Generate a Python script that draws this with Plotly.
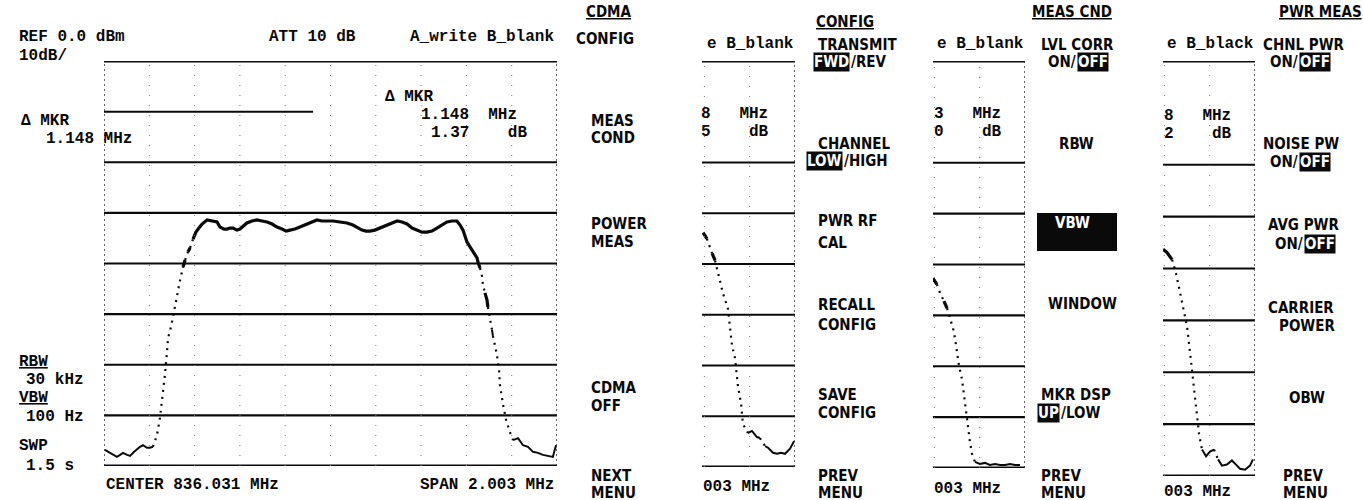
import plotly.graph_objects as go

W, H = 1363, 500

# Spectrum traces: frequency offset from centre (MHz) and level (dBm)
main_freq = [-0.996, -0.974, -0.956, -0.943, -0.929, -0.916, -0.898, -0.885, -0.867, -0.854,
             -0.841, -0.828, -0.810, -0.797, -0.784,
             -0.766, -0.753, -0.740, -0.731, -0.722, -0.717, -0.704, -0.686, -0.664, -0.651,
             -0.642, -0.629, -0.620, -0.607, -0.594, -0.581, -0.567, -0.545,
             -0.523, -0.501, -0.488, -0.470, -0.457, -0.444, -0.430, -0.413, -0.400, -0.382,
             -0.369, -0.347, -0.325, -0.302, -0.280, -0.258, -0.236, -0.214, -0.196, -0.179,
             -0.157, -0.135, -0.113, -0.086, -0.060, -0.038, -0.011, 0.011, 0.042, 0.073,
             0.099, 0.121, 0.139, 0.157, 0.174, 0.196, 0.219, 0.245, 0.272, 0.294,
             0.316, 0.338, 0.360, 0.382, 0.404, 0.426, 0.448, 0.470, 0.492, 0.514,
             0.536, 0.558, 0.572,
             0.585, 0.594, 0.603, 0.616, 0.625, 0.638, 0.647, 0.651, 0.660, 0.669,
             0.673, 0.682, 0.691, 0.695, 0.704, 0.713, 0.717, 0.726, 0.735, 0.744,
             0.748, 0.762, 0.775, 0.792, 0.806,
             0.828, 0.850, 0.872, 0.894, 0.916, 0.938, 0.960, 0.982, 0.990, 0.996]
main_level = [-76.8, -77.4, -78.0, -78.2, -77.8, -77.4, -77.8, -78.0, -77.2, -76.6,
              -76.2, -75.9, -76.4, -76.4, -76.2,
              -73.9, -70.5, -66.0, -62.0, -57.5, -54.7, -52.5, -48.2, -43.3, -40.7,
              -39.3, -37.7, -36.9, -35.2, -33.8, -33.0, -32.2, -31.4,
              -31.6, -31.8, -32.8, -33.2, -33.2, -33.0, -33.0, -33.4, -33.2, -32.6,
              -32.0, -31.6, -31.4, -31.6, -31.8, -32.2, -32.8, -33.2, -33.6, -33.4,
              -33.2, -32.8, -32.4, -31.8, -31.4, -31.6, -31.6, -31.6, -31.8, -32.0,
              -32.4, -33.0, -33.4, -33.6, -33.6, -33.4, -33.0, -32.6, -32.0, -31.6,
              -31.8, -32.2, -33.0, -33.4, -33.8, -33.8, -33.6, -33.0, -32.4, -31.8,
              -31.6, -31.6, -32.4,
              -33.4, -34.6, -35.8, -36.7, -37.3, -38.1, -38.9, -39.7, -40.9, -42.5,
              -44.2, -45.8, -47.2, -48.6, -51.2, -53.1, -54.3, -56.1, -58.1, -61.0,
              -64.0, -67.9, -70.9, -73.3, -74.9,
              -74.5, -75.9, -76.2, -77.2, -77.4, -77.8, -78.0, -78.2, -76.8, -75.9]

config_freq = [0.594, 0.611, 0.634, 0.647, 0.669, 0.682, 0.704, 0.713, 0.722, 0.735,
               0.748, 0.762, 0.770, 0.792, 0.810, 0.832, 0.845, 0.868, 0.881, 0.903,
               0.921, 0.938, 0.956, 0.978, 0.996]
config_level = [-33.8, -35.0, -37.9, -39.3, -43.3, -45.8, -48.8, -53.1, -56.1, -58.5,
                -64.0, -67.6, -71.5, -73.3, -72.9, -74.1, -74.3, -75.9, -76.2, -77.2,
                -77.4, -77.2, -77.4, -76.4, -74.9]

meas_freq = [0.594, 0.611, 0.625, 0.642, 0.656, 0.669, 0.682, 0.691, 0.700, 0.709,
             0.722, 0.731, 0.740, 0.748, 0.757, 0.766, 0.779, 0.801, 0.823, 0.845,
             0.868, 0.890, 0.912, 0.934, 0.956, 0.978]
meas_level = [-42.7, -43.9, -45.6, -47.2, -48.6, -50.6, -52.5, -54.5, -57.1, -60.0,
              -62.6, -66.0, -68.9, -71.9, -74.9, -77.2, -78.8, -79.2, -79.0, -79.4,
              -79.2, -79.4, -79.4, -79.2, -79.4, -79.4]

pwr_freq = [0.594, 0.611, 0.634, 0.651, 0.669, 0.682, 0.700, 0.713, 0.726, 0.740,
            0.753, 0.766, 0.784, 0.801, 0.819, 0.837, 0.854, 0.876, 0.898, 0.916,
            0.934, 0.956, 0.978, 0.991]
pwr_level = [-36.3, -36.9, -38.3, -40.9, -44.6, -47.2, -51.2, -56.1, -61.4, -67.0,
             -71.9, -74.9, -76.2, -75.3, -74.9, -76.8, -78.0, -77.8, -77.0, -77.8,
             -78.6, -78.8, -78.0, -76.8]

# Display settings
ref_level = 0.0
db_per_div = 10
n_ydiv = 8
mhz_per_div = 0.2
grid_levels = [ref_level - db_per_div * i for i in range(n_ydiv + 1)]

INK = "#0a0a0a"
SCREEN_FONT = "Liberation Mono, DejaVu Sans Mono, monospace"
KEY_FONT = "DejaVu Sans Condensed, Liberation Sans Narrow, Arial Narrow, sans-serif"
KEY_SIZE = 15

# Panel placement in pixels: (left, right, top, bottom); x range shown (MHz)
panels = [
    dict(box=(104, 557, 61, 466), xr=(-1.0, 1.0), f=main_freq, l=main_level),
    dict(box=(702, 795, 61, 467), xr=(1.0 - 93 / 226.5, 1.0), f=config_freq, l=config_level),
    dict(box=(933, 1025, 61, 468), xr=(1.0 - 92 / 226.5, 1.0), f=meas_freq, l=meas_level),
    dict(box=(1163, 1255, 61, 476), xr=(1.0 - 92 / 226.5, 1.0), f=pwr_freq, l=pwr_level),
]


def runs(freq, level, steep=1.5):
    """Split a sweep into fast-moving (steep) and slow-moving runs."""
    out = []
    cur = [0]
    cur_steep = None
    for a in range(1, len(freq)):
        s = abs(level[a] - level[a - 1]) > steep
        if cur_steep is None or s == cur_steep:
            cur.append(a)
            cur_steep = s
        else:
            out.append((cur_steep, cur))
            cur = [a - 1, a]
            cur_steep = s
    out.append((bool(cur_steep), cur))
    return out


fig = go.Figure()
shapes = []
layout_axes = {}

for i, p in enumerate(panels):
    k = "" if i == 0 else str(i + 1)
    left, right, top, bottom = p["box"]
    layout_axes["xaxis" + k] = dict(domain=[left / W, right / W], range=list(p["xr"]),
                                    visible=False, anchor="y" + k, fixedrange=True)
    layout_axes["yaxis" + k] = dict(domain=[1 - bottom / H, 1 - top / H],
                                    range=[grid_levels[-1], grid_levels[0]],
                                    visible=False, anchor="x" + k, fixedrange=True)
    xref, yref = "x" + k, "y" + k

    # horizontal graticule (the -10 dB line is hidden behind the marker readout)
    for j, lev in enumerate(grid_levels):
        if lev == -10:
            if i == 0:
                shapes.append(dict(type="line", xref=xref, yref=yref, x0=-1.0, x1=-0.077,
                                   y0=lev, y1=lev, line=dict(color=INK, width=2)))
            continue
        w = 3 if j in (0, len(grid_levels) - 1) else 2.2
        shapes.append(dict(type="line", xref=xref + " domain", yref=yref, x0=0, x1=1,
                           y0=lev, y1=lev, line=dict(color=INK, width=w)))

    # vertical dotted graticule
    n = int(round(2.0 / mhz_per_div))
    for m in range(n + 1):
        fx = -1.0 + m * mhz_per_div
        if fx < p["xr"][0] - 1e-9:
            continue
        edge = m in (0, n)
        shapes.append(dict(type="line", xref=xref, yref=yref + " domain", x0=fx, x1=fx,
                           y0=0, y1=1,
                           line=dict(color="#222" if edge else "#777", width=1.4 if edge else 1,
                                     dash="2px,3px" if edge else "1px,9px")))

    # trace: slow parts drawn solid, fast edges appear as sparse dots
    for is_steep, idx in runs(p["f"], p["l"]):
        xs = [p["f"][a] for a in idx]
        ys = [p["l"][a] for a in idx]
        if is_steep:
            ln = dict(color=INK, width=2.2, dash="2px,5px")
        else:
            ln = dict(color=INK, width=3.2 if max(ys) > -50 else 2.0)
        fig.add_trace(go.Scatter(x=xs, y=ys, xaxis=xref, yaxis=yref, mode="lines",
                                 line=ln, hoverinfo="skip", showlegend=False))

annotations = []


def text(s, x, y, size=16, font=SCREEN_FONT, anchor="left", color=INK, bg=None):
    annotations.append(dict(text=s, x=x / W, y=1 - y / H, xref="paper", yref="paper",
                            xanchor=anchor, yanchor="middle", showarrow=False,
                            font=dict(family=font, size=size, color=color),
                            bgcolor=bg, borderpad=0))


def scr(s, x, y, anchor="left"):
    text("<b>" + s + "</b>", x, y, anchor=anchor)


def key(s, x, y, anchor="left"):
    text("<b>" + s + "</b>", x, y, size=KEY_SIZE, font=KEY_FONT, anchor=anchor)


def key_toggle(inv, rest, xsplit, y, inv_first=True):
    a_inv, a_rest = ("right", "left") if inv_first else ("left", "right")
    text("<b>" + inv + "</b>", xsplit, y, size=KEY_SIZE, font=KEY_FONT, anchor=a_inv,
         color="white", bg=INK)
    text("<b>" + rest + "</b>", xsplit, y, size=KEY_SIZE, font=KEY_FONT, anchor=a_rest)


# main screen annotations
scr("REF 0.0 dBm", 18, 37)
scr("10dB/", 18, 56)
scr("ATT 10 dB", 268, 37)
scr("A_write B_blank", 555, 37, anchor="right")
scr("Δ MKR", 20, 121)
scr("1.148 MHz", 45, 139)
scr("Δ MKR", 384, 97)
scr("1.148  MHz", 420, 115)
scr("1.37    dB", 430, 133)
scr("<u>RBW</u>", 18, 362)
scr("30 kHz", 25, 380)
scr("<u>VBW</u>", 18, 398)
scr("100 Hz", 25, 417)
scr("SWP", 18, 446)
scr("1.5 s", 25, 466)
scr("CENTER 836.031 MHz", 105, 485)
scr("SPAN 2.003 MHz", 555, 485, anchor="right")

# partial screens
for xr_px, top_lbl in [(795, "e B_blank"), (1025, "e B_blank"), (1255, "e B_black")]:
    scr(top_lbl, xr_px, 44, anchor="right")
scr("8   MHz", 700, 114)
scr("5    dB", 700, 132)
scr("3   MHz", 933, 114)
scr("0    dB", 933, 132)
scr("8   MHz", 1163, 116)
scr("2    dB", 1163, 134)
scr("003 MHz", 702, 487)
scr("003 MHz", 933, 489)
scr("003 MHz", 1163, 492)

# soft key menus
key("<u>CDMA</u>", 609, 12, anchor="center")
key("CONFIG", 575, 39)
key("MEAS", 590, 121)
key("COND", 590, 138)
key("POWER", 590, 224)
key("MEAS", 590, 242)
key("CDMA", 590, 388)
key("OFF", 590, 406)
key("NEXT", 590, 476)
key("MENU", 590, 493)

key("<u>CONFIG</u>", 845, 22, anchor="center")
key("TRANSMIT", 817, 45)
key_toggle("FWD", "/REV", 850, 62)
key("CHANNEL", 817, 144)
key_toggle("LOW", "/HIGH", 843, 161)
key("PWR RF", 817, 221)
key("CAL", 817, 243)
key("RECALL", 817, 305)
key("CONFIG", 817, 325)
key("SAVE", 817, 395)
key("CONFIG", 817, 413)
key("PREV", 817, 476)
key("MENU", 817, 493)

key("<u>MEAS CND</u>", 1072, 12, anchor="center")
key("LVL CORR", 1040, 45)
key_toggle("OFF", "ON/", 1077, 62, inv_first=False)
key("RBW", 1058, 144)
shapes.append(dict(type="rect", xref="paper", yref="paper", x0=1037 / W, x1=1117 / W,
                   y0=1 - 251 / H, y1=1 - 213 / H, fillcolor=INK, line=dict(width=0)))
text("<b>VBW</b>", 1072, 223, size=KEY_SIZE, font=KEY_FONT, anchor="center", color="white")
key("WINDOW", 1047, 304)
key("MKR DSP", 1040, 395)
key_toggle("UP", "/LOW", 1060, 413)
key("PREV", 1040, 476)
key("MENU", 1040, 493)

key("<u>PWR MEAS</u>", 1320, 12, anchor="center")
key("CHNL PWR", 1262, 45)
key_toggle("OFF", "ON/", 1299, 62, inv_first=False)
key("NOISE PW", 1262, 144)
key_toggle("OFF", "ON/", 1299, 162, inv_first=False)
key("AVG PWR", 1267, 225)
key_toggle("OFF", "ON/", 1304, 244, inv_first=False)
key("CARRIER", 1267, 308)
key("POWER", 1278, 326)
key("OBW", 1288, 398)
key("PREV", 1282, 476)
key("MENU", 1282, 493)

fig.update_layout(
    width=W, height=H, margin=dict(l=0, r=0, t=0, b=0),
    paper_bgcolor="white", plot_bgcolor="rgba(0,0,0,0)",
    showlegend=False, shapes=shapes, annotations=annotations, **layout_axes,
)
fig.write_html("out.html")
